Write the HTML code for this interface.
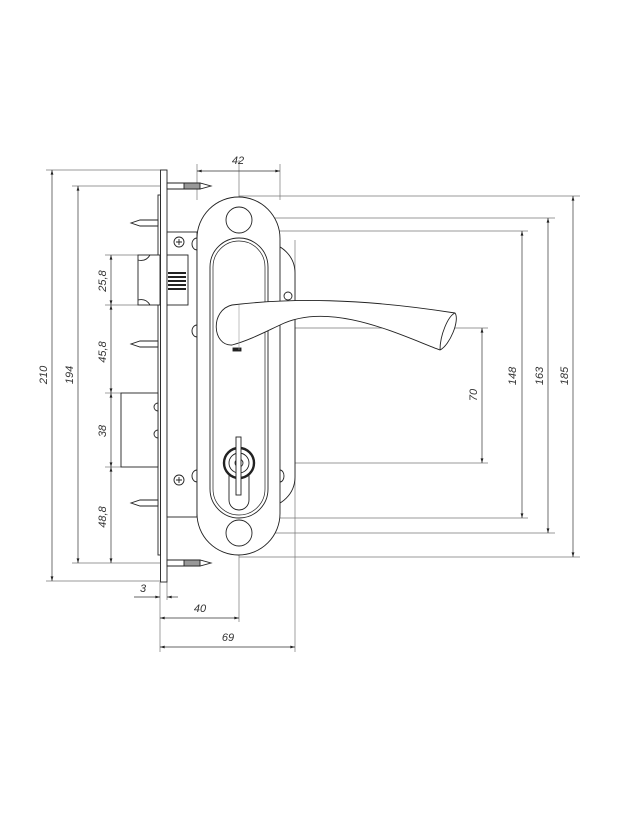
<!DOCTYPE html>
<html><head><meta charset="utf-8"><style>
html,body{margin:0;padding:0;background:#fff;}
svg{display:block}
text{font-family:"Liberation Sans",sans-serif;font-style:italic;font-size:11px;fill:#333;}
</style></head><body>
<svg width="624" height="832" viewBox="0 0 624 832" xmlns="http://www.w3.org/2000/svg">
<defs>
<marker id="a" viewBox="0 0 10 6" refX="10" refY="3" markerWidth="8" markerHeight="4" orient="auto-start-reverse"><path d="M0,0 L10,3 L0,6 z" fill="#222"/></marker>
</defs>
<g stroke="#777" stroke-width="0.7" fill="none">
<line x1="239" y1="160" x2="239" y2="622"/>
<line x1="239" y1="196" x2="580" y2="196"/>
<line x1="239" y1="218" x2="555" y2="218"/>
<line x1="239" y1="231" x2="528" y2="231"/>
<line x1="239" y1="328" x2="488" y2="328"/>
<line x1="239" y1="463" x2="488" y2="463"/>
<line x1="239" y1="518" x2="528" y2="518"/>
<line x1="239" y1="533" x2="555" y2="533"/>
<line x1="239" y1="557" x2="580" y2="557"/>
<line x1="46" y1="170" x2="160" y2="170"/>
<line x1="46" y1="581" x2="160" y2="581"/>
<line x1="72" y1="186" x2="160" y2="186"/>
<line x1="72" y1="563" x2="160" y2="563"/>
<line x1="105" y1="255" x2="138" y2="255"/>
<line x1="105" y1="305" x2="138" y2="305"/>
<line x1="105" y1="393" x2="121" y2="393"/>
<line x1="105" y1="467" x2="121" y2="467"/>
<line x1="197" y1="164" x2="197" y2="200"/>
<line x1="280" y1="164" x2="280" y2="200"/>
<line x1="295" y1="240" x2="295" y2="652"/>
<line x1="160" y1="582" x2="160" y2="652"/>
<line x1="167" y1="582" x2="167" y2="600"/>
</g>
<g stroke="#333" stroke-width="0.7" fill="none">
<line x1="197" y1="171" x2="280" y2="171" marker-start="url(#a)" marker-end="url(#a)"/>
<line x1="573" y1="196" x2="573" y2="557" marker-start="url(#a)" marker-end="url(#a)"/>
<line x1="548" y1="218" x2="548" y2="533" marker-start="url(#a)" marker-end="url(#a)"/>
<line x1="522" y1="231" x2="522" y2="518" marker-start="url(#a)" marker-end="url(#a)"/>
<line x1="482" y1="328" x2="482" y2="463" marker-start="url(#a)" marker-end="url(#a)"/>
<line x1="52" y1="170" x2="52" y2="581" marker-start="url(#a)" marker-end="url(#a)"/>
<line x1="78" y1="186" x2="78" y2="563" marker-start="url(#a)" marker-end="url(#a)"/>
<line x1="111" y1="255" x2="111" y2="305" marker-start="url(#a)" marker-end="url(#a)"/>
<line x1="111" y1="305" x2="111" y2="393" marker-start="url(#a)" marker-end="url(#a)"/>
<line x1="111" y1="393" x2="111" y2="467" marker-start="url(#a)" marker-end="url(#a)"/>
<line x1="111" y1="467" x2="111" y2="563" marker-start="url(#a)" marker-end="url(#a)"/>
<line x1="134" y1="597" x2="160" y2="597" marker-end="url(#a)"/>
<line x1="178" y1="597" x2="167" y2="597" marker-end="url(#a)"/>
<line x1="160" y1="618" x2="239" y2="618" marker-start="url(#a)" marker-end="url(#a)"/>
<line x1="160" y1="647" x2="295" y2="647" marker-start="url(#a)" marker-end="url(#a)"/>
</g>
<text x="238" y="164" text-anchor="middle">42</text>
<text x="143" y="592" text-anchor="middle">3</text>
<text x="200" y="612" text-anchor="middle">40</text>
<text x="228" y="641" text-anchor="middle">69</text>
<text transform="translate(516,376) rotate(-90)" text-anchor="middle">148</text>
<text transform="translate(543,376) rotate(-90)" text-anchor="middle">163</text>
<text transform="translate(568,376) rotate(-90)" text-anchor="middle">185</text>
<text transform="translate(477,395) rotate(-90)" text-anchor="middle">70</text>
<text transform="translate(47,375) rotate(-90)" text-anchor="middle">210</text>
<text transform="translate(73,375) rotate(-90)" text-anchor="middle">194</text>
<text transform="translate(106,281) rotate(-90)" text-anchor="middle">25,8</text>
<text transform="translate(106,352) rotate(-90)" text-anchor="middle">45,8</text>
<text transform="translate(106,431) rotate(-90)" text-anchor="middle">38</text>
<text transform="translate(106,517) rotate(-90)" text-anchor="middle">48,8</text>

<g stroke="#222" stroke-width="0.9" fill="#fff">
<rect x="158" y="195" width="2.5" height="360"/>
<rect x="160.5" y="170" width="6.5" height="412"/>
<rect x="167" y="232" width="30" height="285"/>
<rect x="138" y="255" width="22" height="50"/>
<path d="M138,260 Q146,262 150,255 M138,300 Q146,298 150,305" fill="none"/>
<rect x="167" y="255" width="21" height="50"/>
<g stroke="#222" stroke-width="2">
<line x1="168" y1="273" x2="186" y2="273"/><line x1="168" y1="277" x2="186" y2="277"/>
<line x1="168" y1="281" x2="186" y2="281"/><line x1="168" y1="285" x2="186" y2="285"/>
<line x1="168" y1="289" x2="186" y2="289"/>
</g>
<rect x="121" y="393" width="37" height="74"/>
<path d="M158,403 a4,4 0 0 0 0,8 M158,430 a4,4 0 0 0 0,8" fill="none"/>
<path d="M158,220 L140,220 L131,223 L140,226 L158,226 z"/>
<path d="M158,341 L140,341 L131,344 L140,347 L158,347 z"/>
<path d="M158,500 L140,500 L131,503 L140,506 L158,506 z"/>
<path d="M167,183 L200,183 L211,186 L200,189 L167,189 z"/>
<rect x="184" y="183" width="16" height="6" fill="#999"/>
<path d="M167,560 L200,560 L211,563 L200,566 L167,566 z"/>
<rect x="184" y="560" width="16" height="6" fill="#999"/>
<circle cx="179" cy="242" r="5"/><path d="M176,242h6M179,239v6" fill="none"/>
<circle cx="179" cy="480" r="5"/><path d="M176,480h6M179,477v6" fill="none"/>
<path d="M197,238 a5,6 0 0 0 0,12 M197,325 a5,6 0 0 0 0,12 M197,470 a5,6 0 0 0 0,12" fill="none"/>
<rect x="230" y="243" width="65" height="264" rx="30"/>
<circle cx="288" cy="296" r="4"/>
<path d="M280,470 a4,6 0 0 1 0,12" fill="none"/>
<rect x="197" y="197" width="83" height="358" rx="41.5"/>
<rect x="210" y="238" width="58" height="280" rx="29" fill="none"/>
<rect x="213" y="241" width="52" height="274" rx="26" fill="none" stroke-width="0.7"/>
<circle cx="239" cy="220" r="13" fill="none"/>
<circle cx="239" cy="533" r="13" fill="none"/>
<path d="M229,470 L229,500 A10,10 0 0 0 249,500 L249,470" fill="none"/>
<circle cx="239" cy="463" r="15" fill="#fff" stroke-width="2.4"/>
<circle cx="239" cy="463" r="10" fill="none"/>
<circle cx="239" cy="463" r="4" fill="none"/>
<rect x="236" y="437" width="5" height="58" fill="#fff"/>
<path d="M232,305 C290,298 360,298 455,313 C460,320 450,345 440,350 C400,335 330,300 280,325 C265,332 250,340 232,345 C212,346 210,310 232,305 z"/>
<path d="M455,313 C448,316 440,335 440,350" fill="none"/>
<rect x="233" y="348" width="8" height="3" fill="#222"/>
</g>
<g stroke="#999" stroke-width="0.6"><line x1="239" y1="305" x2="239" y2="350"/></g>
</svg>
</body></html>
